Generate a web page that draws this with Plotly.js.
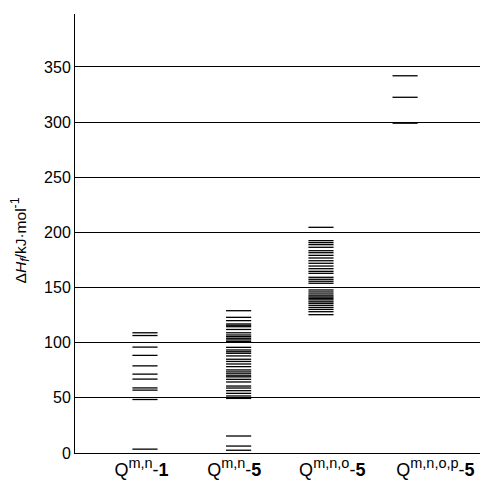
<!DOCTYPE html>
<html>
<head>
<meta charset="utf-8">
<script src="https://cdn.plot.ly/plotly-3.0.1.min.js"></script>
<style>html,body{margin:0;padding:0;background:#fff;}#chart{width:480px;height:491px;}</style>
</head>
<body>
<div id="chart"></div>
<script>
// Category labels and positions of the groups
const categories = [
  "Q<sup><span style='font-size:14.5px'>m,n</span></sup>-<b>1</b>",
  "Q<sup><span style='font-size:14.5px'>m,n</span></sup>-<b>5</b>",
  "Q<sup><span style='font-size:14.5px'>m,n,o</span></sup>-<b>5</b>",
  "Q<sup><span style='font-size:14.5px'>m,n,o,p</span></sup>-<b>5</b>"
];
const groupX = [1, 2.08, 3.03, 4];
const yTitle = 'Δ<i>H</i><sub><span style="font-size:12.5px"><i>f</i></span></sub>/kJ·mol<sup><span style="font-size:12.5px">-1</span></sup>';

// Formation enthalpies (kJ/mol) for each group
const valsQmn1 = [109, 106.5, 96, 88.5, 79, 71.5, 67, 59, 57, 48.5, 3.5];
const valsQmn5 = [129, 123, 120, 117, 115.8, 114.5, 112, 109, 107, 105.5, 104, 102.5, 101,
  95.8, 93.4, 91.8, 90.4, 88, 85, 83, 80.7, 78.3, 75.3, 73.5, 71.8, 70, 69, 66.8, 64.4,
  60.7, 58.9, 56.5, 54.1, 51.7, 49.5, 15.4, 6.3, 2.5];
const valsQmno5 = [204.6, 192.5, 190.7, 188.9, 186.5, 183.4, 181.6, 179.2, 176.8, 174.3, 172,
  169.5, 167.1, 164.7, 162.9, 159.3, 157.5, 155.7, 153.9, 147.8, 146, 144.2, 142.5, 141.3,
  140, 138.8, 137.1, 135.7, 133.9, 132, 130.2, 128.1, 125.4];
const valsQmnop5 = [342, 322.5, 299];

const groups = [valsQmn1, valsQmn5, valsQmno5, valsQmnop5];
const halfW = 0.145;

const xs = [], ys = [];
groups.forEach((vals, gi) => {
  vals.forEach(v => {
    xs.push(groupX[gi] - halfW, groupX[gi] + halfW, null);
    ys.push(v, v, null);
  });
});

const trace = {
  x: xs, y: ys, mode: 'lines', type: 'scatter',
  line: {color: '#000', width: 1.3},
  hoverinfo: 'skip', showlegend: false
};

const layout = {
  width: 480, height: 491,
  margin: {l: 75, r: 0, t: 14, b: 38},
  paper_bgcolor: '#fff', plot_bgcolor: '#fff',
  font: {family: 'Liberation Sans, Arial, sans-serif', color: '#000', size: 14},
  showlegend: false,
  xaxis: {
    range: [0.193, 4.864],
    tickvals: [0.96, 2.03, 3.16, 4.35],
    ticktext: categories,
    tickfont: {size: 18},
    showgrid: false, zeroline: false,
    showline: true, linecolor: '#000', linewidth: 1,
    ticks: '', fixedrange: true
  },
  yaxis: {
    range: [0, 398],
    tickvals: [0, 50, 100, 150, 200, 250, 300, 350],
    showgrid: true, gridcolor: '#000', gridwidth: 1,
    zeroline: false,
    showline: true, linecolor: '#000', linewidth: 1,
    ticks: '', tickfont: {size: 16}
  },
  annotations: [{
    text: yTitle, textangle: -90,
    xref: 'paper', yref: 'paper',
    x: -0.135, y: 0.485, xanchor: 'center', yanchor: 'middle',
    showarrow: false, font: {size: 15.5, color: '#000'}
  }]
};

Plotly.newPlot('chart', [trace], layout, {staticPlot: true, displayModeBar: false});
</script>
</body>
</html>
